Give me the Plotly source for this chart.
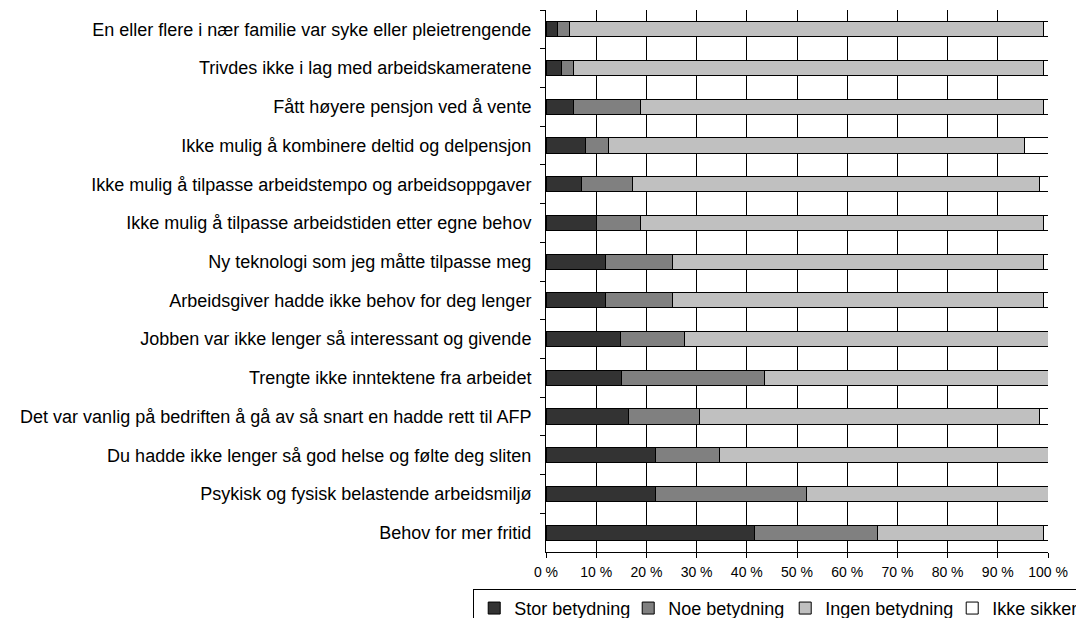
import plotly.graph_objects as go

categories = [
    "En eller flere i nær familie var syke eller pleietrengende",
    "Trivdes ikke i lag med arbeidskameratene",
    "Fått høyere pensjon ved å vente",
    "Ikke mulig å kombinere deltid og delpensjon",
    "Ikke mulig å tilpasse arbeidstempo og arbeidsoppgaver",
    "Ikke mulig å tilpasse arbeidstiden etter egne behov",
    "Ny teknologi som jeg måtte tilpasse meg",
    "Arbeidsgiver hadde ikke behov for deg lenger",
    "Jobben var ikke lenger så interessant og givende",
    "Trengte ikke inntektene fra arbeidet",
    "Det var vanlig på bedriften å gå av så snart en hadde rett til AFP",
    "Du hadde ikke lenger så god helse og følte deg sliten",
    "Psykisk og fysisk belastende arbeidsmiljø",
    "Behov for mer fritid",
]

stor = [2.2, 3.0, 5.4, 7.8, 7.0, 10.1, 11.8, 11.8, 14.9, 15.1, 16.4, 21.8, 21.9, 41.6]
noe = [2.5, 2.4, 13.4, 4.7, 10.2, 8.7, 13.3, 13.3, 12.7, 28.5, 14.1, 12.7, 30.0, 24.5]
ingen = [94.4, 93.7, 80.3, 82.8, 81.1, 80.3, 74.0, 74.0, 72.4, 56.4, 67.8, 65.5, 48.1, 33.0]
ikke = [0.9, 0.9, 0.9, 4.7, 1.7, 0.9, 0.9, 0.9, 0.0, 0.0, 1.7, 0.0, 0.0, 0.9]

series_names = ["Stor betydning", "Noe betydning", "Ingen betydning", "Ikke sikker"]
series_values = [stor, noe, ingen, ikke]
series_colors = ["#333333", "#808080", "#C0C0C0", "#FFFFFF"]
legend_widths = [109, 112, 122, 100]

tick_vals = list(range(0, 101, 10))
tick_text = [f"{v} %" for v in tick_vals]

fig = go.Figure()
for name, vals, col, lw in zip(series_names, series_values, series_colors, legend_widths):
    fig.add_trace(go.Bar(
        y=categories, x=vals, name=name, orientation="h",
        marker=dict(color=col, line=dict(color="#000000", width=1)),
        legendwidth=lw,
    ))

# page body adds an 8px offset; the figure is sized so the plot area lands at x 546-1048, y 10-552
fig.update_layout(
    barmode="stack",
    bargap=0.61,
    width=1076, height=610,
    margin=dict(l=538, r=36, t=2, b=66, autoexpand=False),
    paper_bgcolor="white", plot_bgcolor="white",
    font=dict(family="Liberation Sans, Arial, sans-serif", size=18, color="#000000"),
    showlegend=True,
    legend=dict(
        orientation="h", x=-0.145, xanchor="left", y=-0.068, yanchor="top",
        bordercolor="#000000", borderwidth=1, bgcolor="white",
        font=dict(size=18), traceorder="normal",
    ),
    xaxis=dict(
        range=[0, 100], tickvals=tick_vals, ticktext=tick_text,
        showgrid=True, gridcolor="#000000", gridwidth=1,
        showline=True, linecolor="#000000", linewidth=1,
        ticks="outside", ticklen=5, tickcolor="#000000",
        tickfont=dict(size=14), zeroline=False, fixedrange=True,
        ticklabelstandoff=2,
    ),
    yaxis=dict(
        autorange="reversed", showline=True, linecolor="#000000", linewidth=1,
        ticks="outside", ticklen=5, tickcolor="#000000", tickson="boundaries",
        ticklabelstandoff=10, showgrid=False, tickfont=dict(size=18),
    ),
)

fig.write_html("out.html")
